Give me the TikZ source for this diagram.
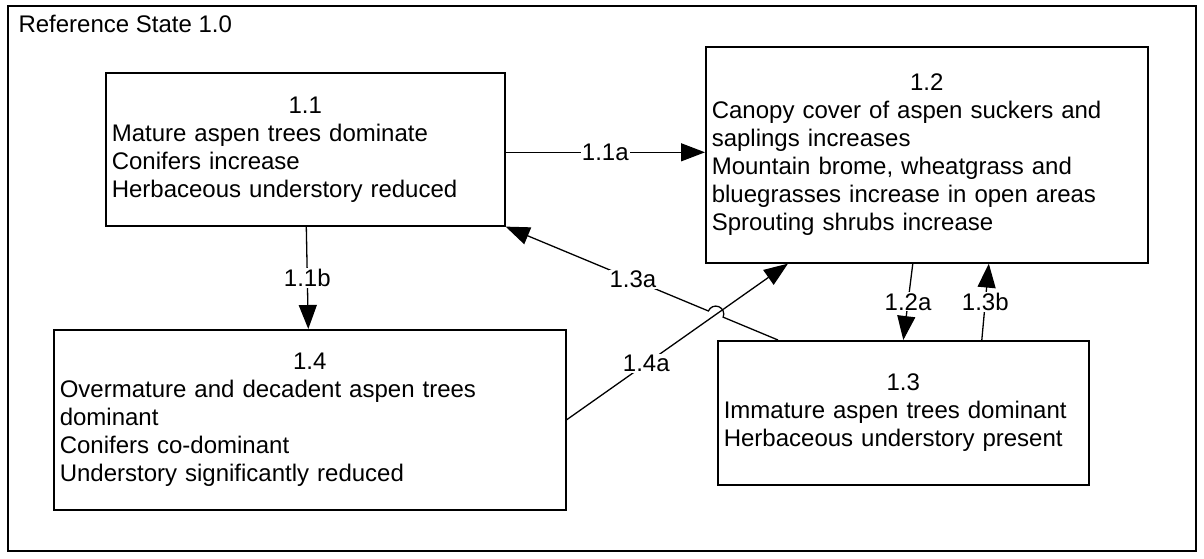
\documentclass[tikz,border=0pt]{standalone}
\usepackage{fontspec}
\setmainfont{Liberation Sans}
\usetikzlibrary{arrows.meta,calc}

\begin{document}
\begin{tikzpicture}[x=1pt,y=-1pt,
  font=\fontsize{24pt}{28pt}\selectfont,
  state/.style={draw, line width=1.6pt, anchor=north west, inner xsep=6pt, inner ysep=0pt, align=left},
  trans/.style={line width=1.3pt, -{Triangle[length=24pt,width=18pt]}},
  lbl/.style={fill=white, inner sep=1pt}]
\useasboundingbox (0,0) rectangle (1204,558);
\draw[line width=2pt] (8,6) rectangle (1196,551);
\node (title) at (15,32) [anchor=base west] {Reference State 1.0};

\node (s11) at (105,72) [state, minimum width=399pt, minimum height=153pt, text width=387pt]
  {\hspace*{\fill}1.1\hspace*{\fill}\null\\Mature aspen trees dominate\\Conifers increase\\Herbaceous understory reduced};
\node (s12) at (705,46) [state, minimum width=442pt, minimum height=216pt, text width=430pt]
  {\hspace*{\fill}1.2\hspace*{\fill}\null\\Canopy cover of aspen suckers and\\saplings increases\\Mountain brome, wheatgrass and\\bluegrasses increase in open areas\\Sprouting shrubs increase};
\node (s13) at (717,340) [state, minimum width=371pt, minimum height=144pt, text width=359pt]
  {\hspace*{\fill}1.3\hspace*{\fill}\null\\Immature aspen trees dominant\\Herbaceous understory present};
\node (s14) at (53,329) [state, minimum width=512pt, minimum height=180pt, text width=500pt]
  {\hspace*{\fill}1.4\hspace*{\fill}\null\\Overmature and decadent aspen trees\\dominant\\Conifers co-dominant\\Understory significantly reduced};

% transitions
\draw[trans] ([yshift=-3pt]s11.east) -- ([yshift=-3pt]s11.east -| s12.west) node[lbl, midway] {1.1a};
\draw[trans] ([xshift=1pt]s11.south) -- ([xshift=-1.5pt]s14.north) node[lbl, midway] {1.1b};
\draw[trans] ([xshift=-14pt]s12.south) -- (s13.north) node[lbl, midway] {1.2a};
\draw[trans] ([xshift=78.5pt]s13.north) -- ([xshift=62pt]s12.south) node[lbl, midway] {1.3b};
\draw[trans] (s14.east) -- ([xshift=83pt]s12.south west) node[lbl, pos=0.36] {1.4a};

% 1.3a hops over 1.4a
\coordinate (a13) at ([xshift=61pt]s13.north west);
\draw[trans] (a13) -- ($(a13)!0.2014!(s11.south east)$)
  arc[start angle=-22.77, end angle=157.23, radius=8pt]
  -- (s11.south east) node[lbl, pos=0.372] {1.3a};
\end{tikzpicture}
\end{document}
